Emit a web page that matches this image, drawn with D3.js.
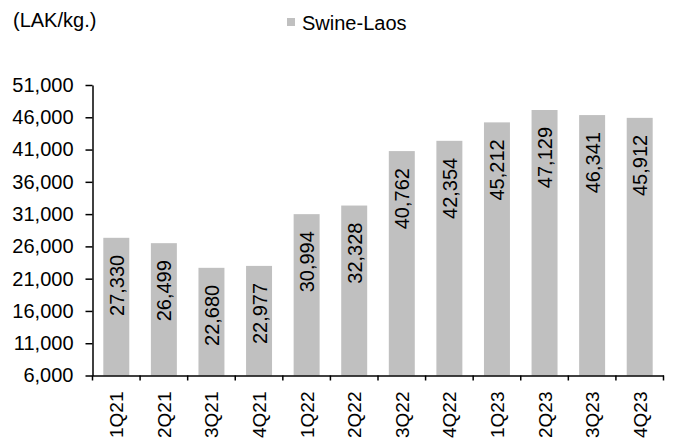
<!DOCTYPE html>
<html>
<head>
<meta charset="utf-8">
<script src="https://cdn.jsdelivr.net/npm/d3@7"></script>
<style>
  body { margin: 0; background: #fff; }
  svg text { font-family: "Liberation Sans", Arial, sans-serif; fill: #000; }
</style>
</head>
<body>
<div id="chart"></div>
<script>
// data
var quarters = ["1Q21", "2Q21", "3Q21", "4Q21", "1Q22", "2Q22", "3Q22", "4Q22", "1Q23", "2Q23", "3Q23", "4Q23"];
var swineLaos = [27330, 26499, 22680, 22977, 30994, 32328, 40762, 42354, 45212, 47129, 46341, 45912];
var yTicks = [6000, 11000, 16000, 21000, 26000, 31000, 36000, 41000, 46000, 51000];

var W = 676, H = 439;
var plotLeft = 92.5, plotRight = 663.5, plotTop = 85, plotBottom = 375.5;
var fontSize = 20;
var barColor = "#c0c0c0";

var svg = d3.select("#chart").append("svg")
    .attr("width", W)
    .attr("height", H);

// scales
var x = d3.scaleBand().domain(quarters).range([plotLeft, plotRight]).paddingInner(0.454).paddingOuter(0.227);
var y = d3.scaleLinear().domain([6000, 51000]).range([plotBottom, plotTop]);

// unit label and legend
svg.append("text")
    .attr("x", 13).attr("y", 27)
    .style("font-size", fontSize + "px")
    .text("(LAK/kg.)");

svg.append("rect")
    .attr("x", 287).attr("y", 18)
    .attr("width", 8).attr("height", 8)
    .attr("fill", barColor);
svg.append("text")
    .attr("x", 302).attr("y", 30)
    .style("font-size", fontSize + "px")
    .text("Swine-Laos");

// bars
svg.selectAll(".bar")
    .data(swineLaos)
    .enter().append("rect")
        .attr("class", "bar")
        .attr("x", (d, i) => x(quarters[i]))
        .attr("width", x.bandwidth())
        .attr("y", (d) => y(d))
        .attr("height", (d) => y(6000) - y(d))
        .attr("fill", barColor);

// value labels inside the bars
svg.selectAll(".val")
    .data(swineLaos)
    .enter().append("text")
        .attr("class", "val")
        .attr("transform", (d, i) => "translate(" + (x(quarters[i]) + x.bandwidth() / 2 + 7.5) + "," + (y(d) + 17) + ") rotate(-90)")
        .style("text-anchor", "end")
        .style("font-size", fontSize + "px")
        .text((d) => d3.format(",")(d));

// y axis
var yAxis = d3.axisLeft(y).tickValues(yTicks).tickFormat(d3.format(",")).tickSizeInner(7).tickSizeOuter(0).tickPadding(12);
var gy = svg.append("g")
    .attr("transform", "translate(" + plotLeft + ",0)")
    .call(yAxis);
gy.select(".domain").attr("stroke", "#000").attr("stroke-width", 1.5);
gy.selectAll(".tick line").attr("stroke", "#000").attr("stroke-width", 1.5);
gy.selectAll(".tick text")
    .style("font-size", fontSize + "px")
    .style("font-family", "'Liberation Sans', Arial, sans-serif")
    .attr("fill", "#000");

// x axis: labels at band centres, ticks at band edges
var xAxis = d3.axisBottom(x).tickSize(0).tickPadding(0);
var gx = svg.append("g")
    .attr("transform", "translate(0," + plotBottom + ")")
    .call(xAxis);
gx.select(".domain").attr("stroke", "#000").attr("stroke-width", 1.5);
gx.selectAll(".tick text")
    .style("font-size", "19px")
    .style("font-family", "'Liberation Sans', Arial, sans-serif")
    .style("text-anchor", "end")
    .attr("fill", "#000")
    .attr("x", 0).attr("y", 0).attr("dy", 0)
    .attr("transform", "translate(7,16) rotate(-90)");

gx.selectAll(".edge")
    .data(d3.range(quarters.length + 1))
    .enter().append("line")
        .attr("class", "edge")
        .attr("x1", (i) => plotLeft + i * x.step())
        .attr("x2", (i) => plotLeft + i * x.step())
        .attr("y1", 0).attr("y2", 5)
        .attr("stroke", "#000").attr("stroke-width", 1.5);
</script>
</body>
</html>
